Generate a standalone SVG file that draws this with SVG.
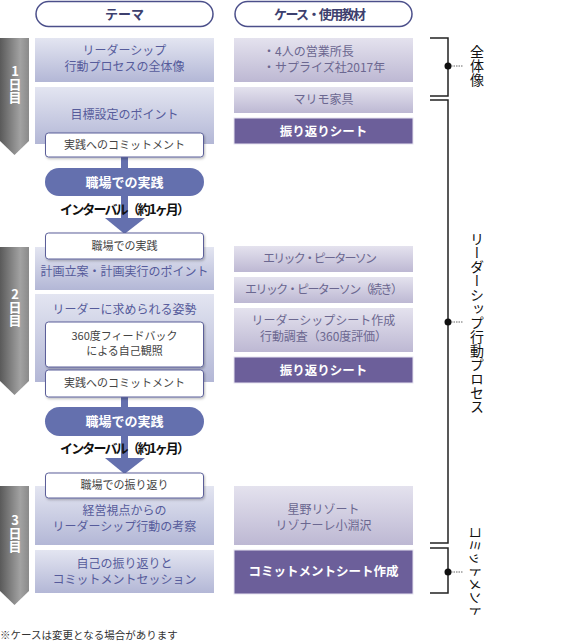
<svg xmlns="http://www.w3.org/2000/svg" width="584" height="644" viewBox="0 0 584 644">
<defs>
<linearGradient id="gL" x1="0" y1="0" x2="0" y2="1"><stop offset="0" stop-color="#e3e5f1"/><stop offset="1" stop-color="#b3b7d6"/></linearGradient>
<linearGradient id="gR" x1="0" y1="0" x2="0" y2="1"><stop offset="0" stop-color="#e4e2ee"/><stop offset="1" stop-color="#bdb8d3"/></linearGradient>
<linearGradient id="gDay" x1="0" y1="0" x2="1" y2="0"><stop offset="0" stop-color="#5a5a5a"/><stop offset="0.7" stop-color="#a2a2a2"/><stop offset="1" stop-color="#8a8a8a"/></linearGradient>
<filter id="sh" x="-5%" y="-10%" width="115%" height="140%"><feDropShadow dx="1" dy="1.5" stdDeviation="1" flood-color="#000" flood-opacity="0.25"/></filter>
</defs>
<style>
text{font-family:"Noto Sans CJK JP","Noto Sans",sans-serif;}
.hdr{fill:#fff;stroke:#4b4f8a;stroke-width:1.5;}
.hdrt{font-size:13px;font-weight:bold;fill:#3d406e;text-anchor:middle;}
.bl{fill:url(#gL);}
.br{fill:url(#gR);}
.dk{fill:#6c5f9a;stroke:#e6e3f0;stroke-width:1;}
.wb{fill:#fff;stroke:#5b5f99;stroke-width:1;filter:url(#sh);}
.pill{fill:#6470ae;}
.tl{font-size:12px;fill:#565b9b;text-anchor:middle;}
.tr{font-size:12px;fill:#6b6790;text-anchor:middle;}
.tw{font-size:11px;fill:#444;text-anchor:middle;}
.td{font-size:12.5px;font-weight:bold;fill:#fff;text-anchor:middle;}
.tp{font-size:13px;font-weight:bold;fill:#fff;text-anchor:middle;}
.ti{font-size:13px;font-weight:bold;fill:#111;text-anchor:middle;}
.day{fill:url(#gDay);}
.dayt{font-size:13px;font-weight:bold;fill:#fff;writing-mode:tb;text-orientation:upright;}
.brk{fill:none;stroke:#222;stroke-width:1.5;}
.dot{fill:#111;}
.dsh{stroke:#666;stroke-width:1;stroke-dasharray:1.5,1;}
.vt{font-size:14px;fill:#111;writing-mode:tb;}
.arr{fill:#6470ae;}
</style>

<g id="header-theme"><rect class="hdr" x="36" y="1.5" width="177" height="25" rx="12.5"/><text class="hdrt" x="124.5" y="19">テーマ</text></g>
<g id="header-case"><rect class="hdr" x="235" y="1.5" width="177" height="25" rx="12.5"/><text class="hdrt" x="320" y="19" textLength="92" lengthAdjust="spacing">ケース・使用教材</text></g>

<g id="day1"><path class="day" d="M0,38 H29 V141 L14.5,155 L0,141 Z"/><text class="dayt" x="15" y="65">1日目</text></g>
<g id="day2"><path class="day" d="M0,247 H29 V381 L14.5,395 L0,381 Z"/><text class="dayt" x="15" y="288">2日目</text></g>
<g id="day3"><path class="day" d="M0,486 H29 V591 L14.5,605 L0,591 Z"/><text class="dayt" x="15" y="514">3日目</text></g>

<g id="t-overview"><rect class="bl" x="35" y="38" width="179" height="44"/><text class="tl"><tspan x="124.5" y="55">リーダーシップ</tspan><tspan x="124.5" y="71">行動プロセスの全体像</tspan></text></g>
<g id="t-goal"><rect class="bl" x="35" y="87" width="179" height="57"/><text class="tl" x="124.5" y="119">目標設定のポイント</text></g>
<g id="t-plan"><rect class="bl" x="35" y="247" width="179" height="43"/><text class="tl" x="124.5" y="276">計画立案・計画実行のポイント</text></g>
<g id="t-attitude"><rect class="bl" x="35" y="294" width="179" height="88"/><text class="tl" x="124.5" y="314">リーダーに求められる姿勢</text></g>
<g id="t-mgmt"><rect class="bl" x="35" y="486" width="179" height="59"/><text class="tl"><tspan x="124.5" y="515">経営視点からの</tspan><tspan x="124.5" y="531">リーダーシップ行動の考察</tspan></text></g>
<g id="t-self"><rect class="bl" x="35" y="550" width="179" height="43"/><text class="tl"><tspan x="124.5" y="568">自己の振り返りと</tspan><tspan x="124.5" y="584">コミットメントセッション</tspan></text></g>

<g id="c-4"><rect class="br" x="234" y="38" width="179" height="44"/><text class="tr" style="text-anchor:start"><tspan x="263" y="56">・4人の営業所長</tspan><tspan x="263" y="72">・サプライズ社2017年</tspan></text></g>
<g id="c-marimo"><rect class="br" x="234" y="87" width="179" height="26"/><text class="tr" x="323.5" y="104">マリモ家具</text></g>
<g id="c-sheet1"><rect class="dk" x="234" y="118" width="179" height="26"/><text class="td" x="323.5" y="135.5">振り返りシート</text></g>
<g id="c-eric"><rect class="br" x="234" y="246" width="179" height="26"/><text class="tr" x="320" y="263" textLength="114" lengthAdjust="spacing">エリック・ピーターソン</text></g>
<g id="c-eric2"><rect class="br" x="234" y="277" width="179" height="26"/><text class="tr" x="324" y="294" textLength="158" lengthAdjust="spacing">エリック・ピーターソン（続き）</text></g>
<g id="c-lsheet"><rect class="br" x="234" y="308" width="179" height="44"/><text class="tr"><tspan x="323.5" y="325">リーダーシップシート作成</tspan><tspan x="323.5" y="341" textLength="127" lengthAdjust="spacing">行動調査（360度評価）</tspan></text></g>
<g id="c-sheet2"><rect class="dk" x="234" y="357" width="179" height="26"/><text class="td" x="323.5" y="374.5">振り返りシート</text></g>
<g id="c-hoshino"><rect class="br" x="234" y="486" width="179" height="59"/><text class="tr"><tspan x="323.5" y="514">星野リゾート</tspan><tspan x="323.5" y="530">リゾナーレ小淵沢</tspan></text></g>
<g id="c-commit"><rect class="dk" x="234" y="550" width="179" height="44"/><text class="td" x="323.5" y="576">コミットメントシート作成</text></g>

<g id="connectors">
<rect class="arr" x="121" y="150" width="7" height="70"/>
<path class="arr" d="M105,218 L145,218 L124.5,234 Z"/>
<rect class="arr" x="121" y="390" width="7" height="70"/>
<path class="arr" d="M105,458 L145,458 L124.5,474 Z"/>
<path class="brk" d="M430,38 H448 V96 H430"/>
<path class="brk" d="M430,100 H448 V543 H430"/>
<path class="brk" d="M430,548 H448 V593 H430"/>
<circle class="dot" cx="448" cy="66" r="3.5"/><line class="dsh" x1="451" y1="66" x2="463" y2="66"/>
<circle class="dot" cx="448" cy="322" r="3.5"/><line class="dsh" x1="451" y1="322" x2="463" y2="322"/>
<circle class="dot" cx="448" cy="572" r="3.5"/><line class="dsh" x1="451" y1="572" x2="463" y2="572"/>
</g>

<g id="w-commit1"><rect class="wb" x="45.5" y="133" width="158" height="24" rx="3"/><text class="tw" x="124.5" y="149">実践へのコミットメント</text></g>
<g id="p-practice1"><rect class="pill" x="45" y="168" width="159" height="28" rx="14"/><text class="tp" x="124.5" y="187">職場での実践</text></g>
<g id="interval1"><text class="ti" x="125" y="214" textLength="130" lengthAdjust="spacing">インターバル（約1ヶ月）</text></g>
<g id="w-practice"><rect class="wb" x="45.5" y="233" width="158" height="26" rx="3"/><text class="tw" x="124.5" y="250">職場での実践</text></g>
<g id="w-360"><rect class="wb" x="45.5" y="322" width="158" height="45" rx="3"/><text class="tw"><tspan x="124.5" y="340">360度フィードバック</tspan><tspan x="124.5" y="355">による自己観照</tspan></text></g>
<g id="w-commit2"><rect class="wb" x="45.5" y="370" width="158" height="27" rx="3"/><text class="tw" x="124.5" y="387">実践へのコミットメント</text></g>
<g id="p-practice2"><rect class="pill" x="45" y="407" width="159" height="29" rx="14.5"/><text class="tp" x="124.5" y="426">職場での実践</text></g>
<g id="interval2"><text class="ti" x="125" y="453" textLength="130" lengthAdjust="spacing">インターバル（約1ヶ月）</text></g>
<g id="w-review"><rect class="wb" x="45.5" y="473" width="158" height="25" rx="3"/><text class="tw" x="124.5" y="489">職場での振り返り</text></g>

<g id="label-overview"><text class="vt" x="477" y="45">全体像</text></g>
<g id="label-process"><text class="vt" x="477" y="232">リーダーシップ行動プロセス</text></g>
<g id="label-commit"><text fill="#111" transform="translate(476,526) rotate(90)" dominant-baseline="central" style="font-size:13px">コミットメント</text></g>

<g id="footnote"><text x="0" y="639" style="font-size:10.5px;fill:#333">※ケースは変更となる場合があります</text></g>
</svg>
